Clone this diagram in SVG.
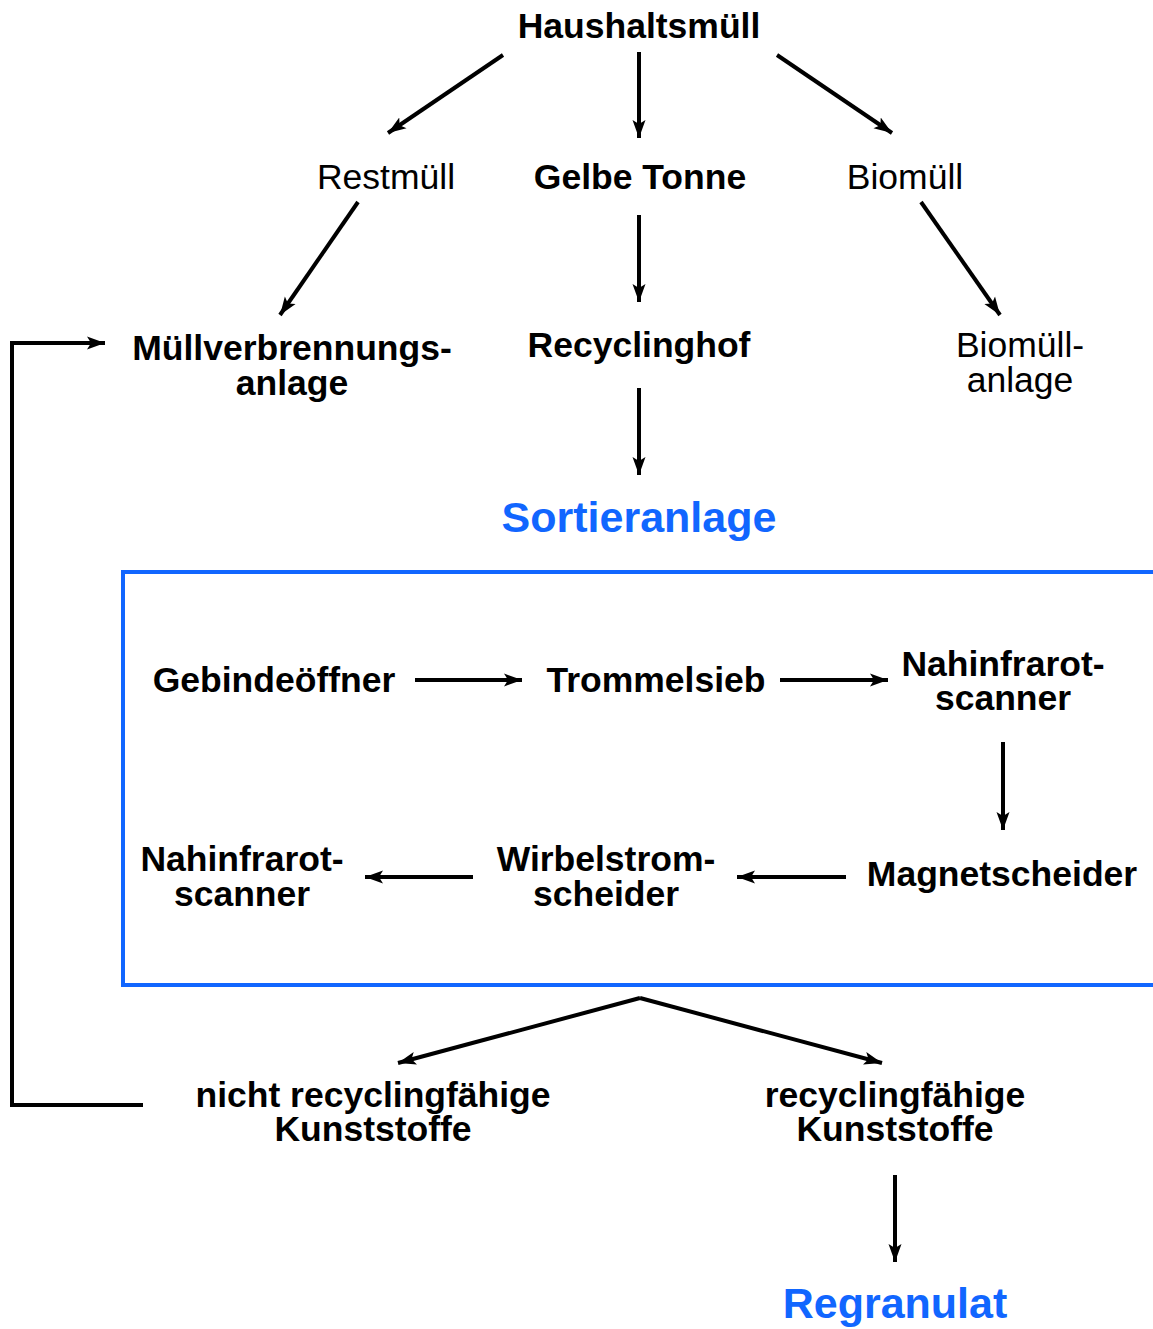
<svg xmlns="http://www.w3.org/2000/svg" width="1153" height="1329" viewBox="0 0 1153 1329">
<style>
text{font-family:"Liberation Sans",Arial,sans-serif;font-size:35.5px;fill:#000;text-anchor:middle}
.b{font-weight:bold}
.h{font-weight:bold;font-size:43px;fill:#1166ff}
.c line,.c polyline{stroke:#000;stroke-width:4;fill:none}
.a{marker-end:url(#ah)}
</style>
<defs>
<marker id="ah" markerUnits="userSpaceOnUse" markerWidth="22" markerHeight="16" refX="18" refY="8" orient="auto">
<path d="M0,1.5 L18,8 L0,14.5 L4,8 Z" fill="#000"/>
</marker>
</defs>
<rect x="123" y="572" width="1040" height="413" fill="none" stroke="#1166ff" stroke-width="4"/>
<g class="c">
<line class="a" x1="503" y1="55" x2="388" y2="133"/>
<line class="a" x1="639" y1="52" x2="639" y2="138"/>
<line class="a" x1="777" y1="55" x2="892" y2="133"/>
<line class="a" x1="358" y1="202" x2="280" y2="315"/>
<line class="a" x1="639" y1="215" x2="639" y2="302"/>
<line class="a" x1="921" y1="202" x2="1000" y2="315"/>
<line class="a" x1="639" y1="388" x2="639" y2="475"/>
<line class="a" x1="415" y1="680" x2="522" y2="680"/>
<line class="a" x1="780" y1="680" x2="888" y2="680"/>
<line class="a" x1="1003" y1="742" x2="1003" y2="830"/>
<line class="a" x1="846" y1="877" x2="737" y2="877"/>
<line class="a" x1="473" y1="877" x2="365" y2="877"/>
<line class="a" x1="640" y1="998" x2="398" y2="1063"/>
<line class="a" x1="640" y1="998" x2="882" y2="1063"/>
<line class="a" x1="895" y1="1175" x2="895" y2="1262"/>
<polyline class="a" points="143,1105 12,1105 12,343 105,343"/>
</g>
<g id="haushaltsmuell"><text class="b" x="639" y="38">Haushaltsmüll</text></g>
<g id="restmuell"><text x="386" y="189">Restmüll</text></g>
<g id="gelbe-tonne"><text class="b" x="640" y="189">Gelbe Tonne</text></g>
<g id="biomuell"><text x="905" y="189">Biomüll</text></g>
<g id="muellverbrennung"><text class="b" x="292" y="360">Müllverbrennungs-</text><text class="b" x="292" y="395">anlage</text></g>
<g id="recyclinghof"><text class="b" x="639" y="357">Recyclinghof</text></g>
<g id="biomuellanlage"><text x="1020" y="357">Biomüll-</text><text x="1020" y="392">anlage</text></g>
<g id="sortieranlage"><text class="h" x="639" y="532">Sortieranlage</text></g>
<g id="gebindeoeffner"><text class="b" x="274" y="692">Gebindeöffner</text></g>
<g id="trommelsieb"><text class="b" x="656" y="692">Trommelsieb</text></g>
<g id="nir1"><text class="b" x="1003" y="676">Nahinfrarot-</text><text class="b" x="1003" y="710">scanner</text></g>
<g id="magnetscheider"><text class="b" x="1002" y="886">Magnetscheider</text></g>
<g id="wirbelstrom"><text class="b" x="606" y="871">Wirbelstrom-</text><text class="b" x="606" y="906">scheider</text></g>
<g id="nir2"><text class="b" x="242" y="871">Nahinfrarot-</text><text class="b" x="242" y="906">scanner</text></g>
<g id="nicht-recyclingfaehig"><text class="b" x="373" y="1107">nicht recyclingfähige</text><text class="b" x="373" y="1141">Kunststoffe</text></g>
<g id="recyclingfaehig"><text class="b" x="895" y="1107">recyclingfähige</text><text class="b" x="895" y="1141">Kunststoffe</text></g>
<g id="regranulat"><text class="h" x="895" y="1318">Regranulat</text></g>
</svg>
